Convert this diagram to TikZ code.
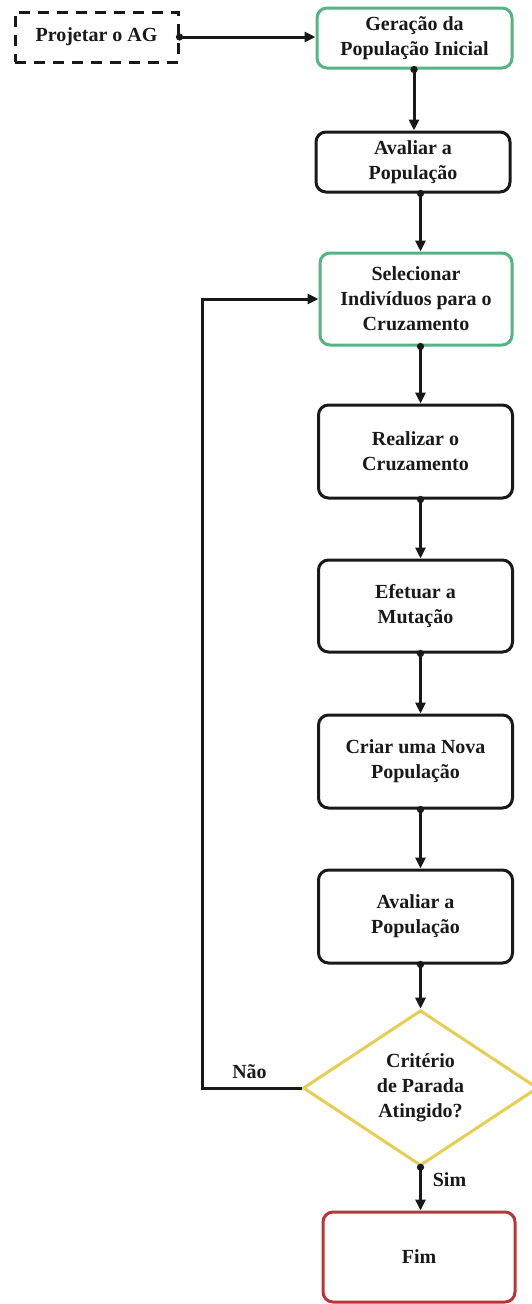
\documentclass[tikz,border=0pt]{standalone}
\usepackage{fontspec}
\setmainfont{Liberation Serif}
\usetikzlibrary{arrows.meta,shapes.geometric}
\definecolor{gborder}{RGB}{84,180,132}
\definecolor{yborder}{RGB}{232,206,80}
\definecolor{rborder}{RGB}{188,52,58}
\definecolor{ink}{RGB}{25,25,25}
\tikzset{
  txt/.style={font=\fontsize{20}{25}\selectfont\bfseries, text=ink, align=center},
  procbox/.style={txt, draw=ink, line width=3pt, rounded corners=10pt, minimum width=194pt, inner sep=0pt},
  greenbox/.style={procbox, draw=gborder},
  redbox/.style={procbox, draw=rborder},
  decbox/.style={txt, diamond, draw=yborder, line width=3pt, inner sep=0pt, minimum width=235pt, minimum height=127pt},
  dashbox/.style={txt, draw=ink, line width=3pt, dash pattern=on 11pt off 8pt, inner sep=0pt},
  conn/.style={draw=ink, line width=3pt, shorten <=-3.5pt, {Circle[length=7pt]}-{Triangle[length=11pt,width=10pt]}},
  loopconn/.style={draw=ink, line width=3pt, -{Triangle[length=11pt,width=10pt]}},
  lbl/.style={font=\fontsize{20}{24}\selectfont\bfseries, text=ink}
}
\begin{document}
\begin{tikzpicture}[x=1pt,y=-1pt]
\useasboundingbox (0,0) rectangle (531,1304);
\node[dashbox, minimum width=163pt, minimum height=50pt] (proj) at (96.5,37) {Projetar o AG};
\node[greenbox, minimum height=60pt, minimum width=195pt] (gen) at (414.5,38) {Geração da\\População Inicial};
\node[procbox, minimum height=60pt] (av1) at (413,162) {Avaliar a\\População};
\node[greenbox, minimum height=92pt, minimum width=192pt] (sel) at (416,299) {Selecionar\\Indivíduos para o\\Cruzamento};
\node[procbox, minimum height=93pt] (rea) at (415.5,451.5) {Realizar o\\Cruzamento};
\node[procbox, minimum height=92pt] (efe) at (415.5,606) {Efetuar a\\Mutação};
\node[procbox, minimum height=93pt] (cri) at (415.5,761.5) {Criar uma Nova\\População};
\node[procbox, minimum height=93pt] (av2) at (415.5,916.5) {Avaliar a\\População};
\node[decbox] (dia) at (420.5,1088) {Critério\\de Parada\\Atingido?};
\node[redbox, minimum height=90pt, minimum width=192pt] (fim) at (419,1257) {Fim};

\coordinate (colA) at (414,0);
\coordinate (colB) at (420.5,0);
\coordinate (corner) at (202,1088);

\draw[conn] (proj.east) -- (gen.west |- proj.east);
\draw[conn] (gen.south -| colA) -- (av1.north -| colA);
\draw[conn] (av1.south -| colB) -- (sel.north -| colB);
\draw[conn] (sel.south -| colB) -- (rea.north -| colB);
\draw[conn] (rea.south -| colB) -- (efe.north -| colB);
\draw[conn] (efe.south -| colB) -- (cri.north -| colB);
\draw[conn] (cri.south -| colB) -- (av2.north -| colB);
\draw[conn] (av2.south -| colB) -- (dia.north);
\draw[conn] (dia.south) -- (fim.north -| dia.south);
\draw[loopconn] (dia.west) -- (corner) |- (sel.west);

\node[lbl] (nao) at (249.5,1072) {Não};
\node[lbl] (sim) at (449.5,1180) {Sim};
\end{tikzpicture}
\end{document}
